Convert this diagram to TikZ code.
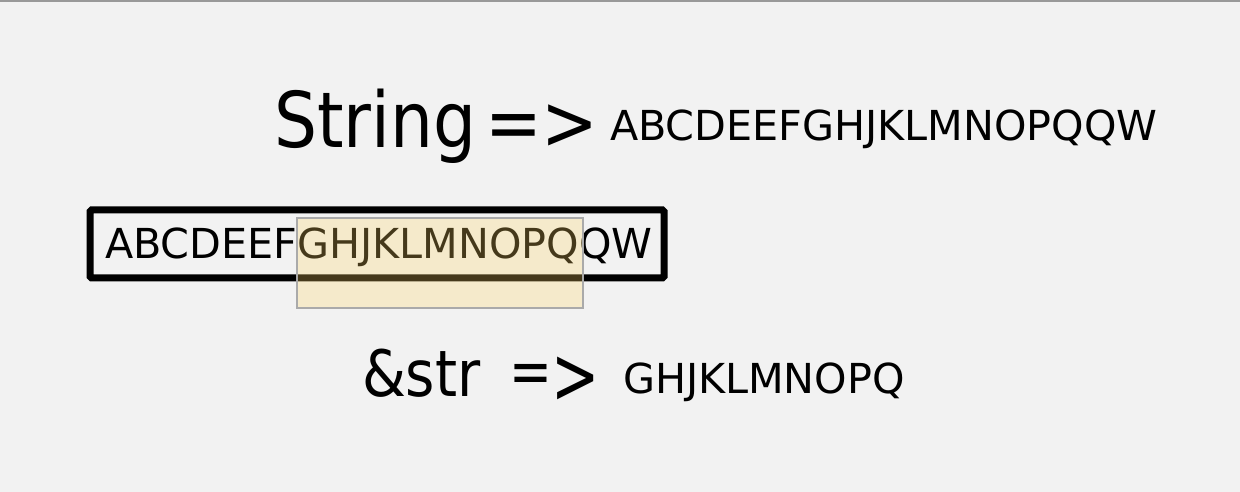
\documentclass[tikz,border=0pt]{standalone}
\usepackage{fontspec}
\setmainfont{DejaVu Sans}
\newfontfamily\tahbig[FakeStretch=0.88]{DejaVu Sans}
\newfontfamily\tahmid[FakeStretch=0.88]{DejaVu Sans}
\newfontfamily\tahgt[FakeStretch=0.72]{DejaVu Sans}
\newfontfamily\taheq[FakeStretch=0.8]{DejaVu Sans}
\definecolor{bgc}{HTML}{F2F2F2}
\definecolor{topline}{HTML}{999999}
\definecolor{hlfill}{RGB}{255,214,100}
\definecolor{hlborder}{HTML}{AAAAAA}
\tikzset{
  txt/.style={inner sep=0pt, outer sep=0pt, anchor=base west, text=black},
  bigtxt/.style={txt, font=\tahbig\fontsize{77bp}{80bp}\selectfont},
  arrtop/.style={txt, font=\tahbig\fontsize{77bp}{80bp}\selectfont},
  midtxt/.style={txt, font=\tahmid\fontsize{64bp}{66bp}\selectfont},
  smalltxt/.style={txt, font=\fontsize{41.3bp}{44bp}\selectfont},
  strbox/.style={draw=black, line width=7bp, rounded corners=1.5bp},
  hlbox/.style={fill=hlfill, fill opacity=0.27, draw=hlborder, draw opacity=1, line width=2.2bp}
}
\begin{document}
\begin{tikzpicture}[x=1bp,y=-1bp]
\fill[bgc] (0,0) rectangle (1240,492);
\useasboundingbox (0,0) rectangle (1240,492);
\draw[topline, line width=1.6bp] (0,0.8) -- (1240,0.8);

% top row
\node[bigtxt] (strlbl) at (274,148) {String};
\node[arrtop] (toparr) at (485,150) {=>};
\node[smalltxt] (topval) at (610,141) {ABCDEEFGHJKLMNOPQQW};

% middle row
\node[smalltxt] (boxval) at (105,259) {ABCDEEFGHJKLMNOPQQW};
\draw[strbox] (90,210) rectangle (664,278);
\coordinate (hlA) at (297,218);
\coordinate (hlB) at (583,308);
\draw[hlbox] (hlA) rectangle (hlB);

% bottom row
\node[midtxt] (slicelbl) at (362,396) {\&str};
\node[txt] (botarr) at (509,403) {\raisebox{10bp}{\taheq\fontsize{64bp}{66bp}\selectfont =}{\tahgt\fontsize{80bp}{82bp}\selectfont >}};
\node[smalltxt] (botval) at (623,393) {GHJKLMNOPQ};
\end{tikzpicture}
\end{document}
